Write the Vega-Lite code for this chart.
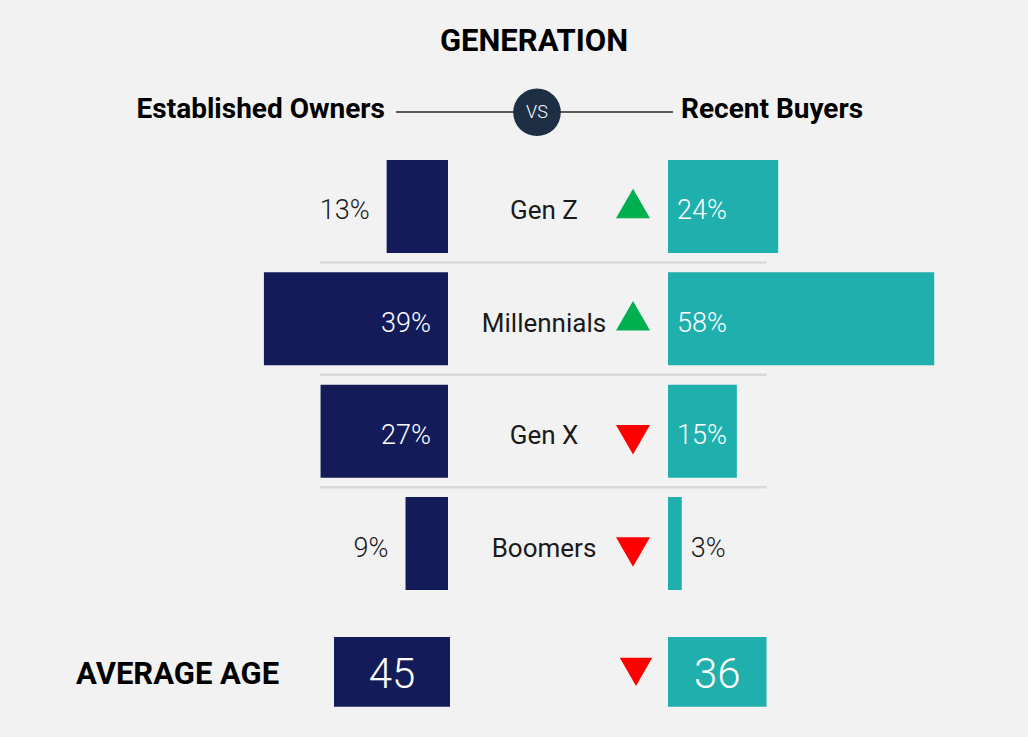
{
  "$schema": "https://vega.github.io/schema/vega-lite/v6.json",
  "width": 1028,
  "height": 737,
  "autosize": {"type": "none"},
  "padding": 0,
  "background": "#f2f2f2",
  "config": {"view": {"stroke": null}, "font": "Roboto", "axis": {"disable": true}},
  "datasets": {
    "generations": [
      {"generation": "Gen Z", "established": 0.13, "recent": 0.24},
      {"generation": "Millennials", "established": 0.39, "recent": 0.58},
      {"generation": "Gen X", "established": 0.27, "recent": 0.15},
      {"generation": "Boomers", "established": 0.09, "recent": 0.03}
    ],
    "average": [{"metric": "AVERAGE AGE", "established": 45, "recent": 36}],
    "headers": [
      {"row": "title", "side": "center", "label": "GENERATION"},
      {"row": "header", "side": "left", "label": "Established Owners"},
      {"row": "header", "side": "right", "label": "Recent Buyers"},
      {"row": "header", "side": "center", "label": "VS"}
    ]
  },
  "layer": [
    {
      "data": {"name": "generations"},
      "transform": [{"filter": "datum.generation != 'Boomers'"}],
      "mark": {"type": "rule", "color": "#d9d9d9", "strokeWidth": 2.5, "yOffset": 9.5},
      "encoding": {
        "x": {"datum": 0.2712, "type": "quantitative", "scale": {"domain": [0, 1], "range": [448, -24], "nice": false}},
        "x2": {"datum": -0.675},
        "y": {"field": "generation", "type": "nominal", "bandPosition": 1, "scale": {"domain": ["Gen Z", "Millennials", "Gen X", "Boomers"], "range": [150.3, 599.7], "paddingInner": 0.172, "paddingOuter": 0.086}}
      }
    },
    {
      "data": {"name": "generations"},
      "mark": {"type": "bar", "color": "#131b58"},
      "encoding": {
        "x": {"field": "established", "type": "quantitative", "scale": {"domain": [0, 1], "range": [448, -24], "nice": false}},
        "y": {"field": "generation", "type": "nominal", "scale": {"domain": ["Gen Z", "Millennials", "Gen X", "Boomers"], "range": [150.3, 599.7], "paddingInner": 0.172, "paddingOuter": 0.086}}
      }
    },
    {
      "data": {"name": "generations"},
      "transform": [{"filter": "datum.established >= 0.2"}],
      "mark": {"type": "text", "align": "right", "baseline": "middle", "dx": -17, "dy": 5, "fontSize": 27, "fontWeight": 300, "color": "#ffffff"},
      "encoding": {
        "x": {"datum": 0, "type": "quantitative", "scale": {"domain": [0, 1], "range": [448, -24], "nice": false}},
        "y": {"field": "generation", "type": "nominal", "scale": {"domain": ["Gen Z", "Millennials", "Gen X", "Boomers"], "range": [150.3, 599.7], "paddingInner": 0.172, "paddingOuter": 0.086}},
        "text": {"field": "established", "type": "quantitative", "format": ".0%"}
      }
    },
    {
      "data": {"name": "generations"},
      "transform": [{"filter": "datum.established < 0.2"}],
      "mark": {"type": "text", "align": "right", "baseline": "middle", "dx": -17, "dy": 5, "fontSize": 27, "fontWeight": 300, "color": "#1a1a1a"},
      "encoding": {
        "x": {"field": "established", "type": "quantitative", "scale": {"domain": [0, 1], "range": [448, -24], "nice": false}},
        "y": {"field": "generation", "type": "nominal", "scale": {"domain": ["Gen Z", "Millennials", "Gen X", "Boomers"], "range": [150.3, 599.7], "paddingInner": 0.172, "paddingOuter": 0.086}},
        "text": {"field": "established", "type": "quantitative", "format": ".0%"}
      }
    },
    {
      "data": {"name": "generations"},
      "mark": {"type": "bar", "color": "#1fafad"},
      "encoding": {
        "x": {"field": "recent", "type": "quantitative", "scale": {"domain": [0, 1], "range": [668, 1127], "nice": false}},
        "y": {"field": "generation", "type": "nominal", "scale": {"domain": ["Gen Z", "Millennials", "Gen X", "Boomers"], "range": [150.3, 599.7], "paddingInner": 0.172, "paddingOuter": 0.086}}
      }
    },
    {
      "data": {"name": "generations"},
      "transform": [{"filter": "datum.recent >= 0.1"}],
      "mark": {"type": "text", "align": "left", "baseline": "middle", "dx": 9, "dy": 5, "fontSize": 27, "fontWeight": 300, "color": "#ffffff"},
      "encoding": {
        "x": {"datum": 0, "type": "quantitative", "scale": {"domain": [0, 1], "range": [668, 1127], "nice": false}},
        "y": {"field": "generation", "type": "nominal", "scale": {"domain": ["Gen Z", "Millennials", "Gen X", "Boomers"], "range": [150.3, 599.7], "paddingInner": 0.172, "paddingOuter": 0.086}},
        "text": {"field": "recent", "type": "quantitative", "format": ".0%"}
      }
    },
    {
      "data": {"name": "generations"},
      "transform": [{"filter": "datum.recent < 0.1"}],
      "mark": {"type": "text", "align": "left", "baseline": "middle", "dx": 9, "dy": 5, "fontSize": 27, "fontWeight": 300, "color": "#1a1a1a"},
      "encoding": {
        "x": {"field": "recent", "type": "quantitative", "scale": {"domain": [0, 1], "range": [668, 1127], "nice": false}},
        "y": {"field": "generation", "type": "nominal", "scale": {"domain": ["Gen Z", "Millennials", "Gen X", "Boomers"], "range": [150.3, 599.7], "paddingInner": 0.172, "paddingOuter": 0.086}},
        "text": {"field": "recent", "type": "quantitative", "format": ".0%"}
      }
    },
    {
      "data": {"name": "generations"},
      "mark": {"type": "text", "align": "center", "baseline": "middle", "dx": 30, "dy": 5, "fontSize": 26, "fontWeight": 400, "color": "#1a1a1a"},
      "encoding": {
        "y": {"field": "generation", "type": "nominal", "scale": {"domain": ["Gen Z", "Millennials", "Gen X", "Boomers"], "range": [150.3, 599.7], "paddingInner": 0.172, "paddingOuter": 0.086}},
        "text": {"field": "generation", "type": "nominal"}
      }
    },
    {
      "data": {"name": "generations"},
      "transform": [{"filter": "datum.recent > datum.established"}],
      "mark": {"type": "point", "shape": "triangle-up", "filled": true, "opacity": 1, "color": "#00b050", "size": 1156, "strokeWidth": 0, "xOffset": 119, "yOffset": -3},
      "encoding": {
        "y": {"field": "generation", "type": "nominal", "scale": {"domain": ["Gen Z", "Millennials", "Gen X", "Boomers"], "range": [150.3, 599.7], "paddingInner": 0.172, "paddingOuter": 0.086}}
      }
    },
    {
      "data": {"name": "generations"},
      "transform": [{"filter": "datum.recent < datum.established"}],
      "mark": {"type": "point", "shape": "triangle-down", "filled": true, "opacity": 1, "color": "#ff0000", "size": 1156, "strokeWidth": 0, "xOffset": 119, "yOffset": 8.5},
      "encoding": {
        "y": {"field": "generation", "type": "nominal", "scale": {"domain": ["Gen Z", "Millennials", "Gen X", "Boomers"], "range": [150.3, 599.7], "paddingInner": 0.172, "paddingOuter": 0.086}}
      }
    },
    {
      "data": {"name": "average"},
      "mark": {"type": "rect", "color": "#131b58"},
      "encoding": {
        "x": {"datum": 0.2415, "type": "quantitative", "scale": {"domain": [0, 1], "range": [448, -24], "nice": false}},
        "x2": {"datum": -0.0042},
        "y": {"field": "metric", "type": "nominal", "scale": {"domain": ["AVERAGE AGE"], "range": [637, 706.7], "paddingInner": 0, "paddingOuter": 0}}
      }
    },
    {
      "data": {"name": "average"},
      "mark": {"type": "text", "align": "center", "baseline": "middle", "dy": 3.5, "fontSize": 42, "fontWeight": 300, "color": "#ffffff"},
      "encoding": {
        "x": {"datum": 0.1186, "type": "quantitative", "scale": {"domain": [0, 1], "range": [448, -24], "nice": false}},
        "y": {"field": "metric", "type": "nominal", "scale": {"domain": ["AVERAGE AGE"], "range": [637, 706.7], "paddingInner": 0, "paddingOuter": 0}},
        "text": {"field": "established", "type": "quantitative"}
      }
    },
    {
      "data": {"name": "average"},
      "mark": {"type": "text", "align": "left", "baseline": "middle", "dy": 3, "fontSize": 31, "fontWeight": "bold", "color": "#000000"},
      "encoding": {
        "x": {"datum": 0.788, "type": "quantitative", "scale": {"domain": [0, 1], "range": [448, -24], "nice": false}},
        "y": {"field": "metric", "type": "nominal", "scale": {"domain": ["AVERAGE AGE"], "range": [637, 706.7], "paddingInner": 0, "paddingOuter": 0}},
        "text": {"field": "metric", "type": "nominal"}
      }
    },
    {
      "data": {"name": "average"},
      "mark": {"type": "rect", "color": "#1fafad"},
      "encoding": {
        "x": {"datum": 0, "type": "quantitative", "scale": {"domain": [0, 1], "range": [668, 1127], "nice": false}},
        "x2": {"datum": 0.2146},
        "y": {"field": "metric", "type": "nominal", "scale": {"domain": ["AVERAGE AGE"], "range": [637, 706.7], "paddingInner": 0, "paddingOuter": 0}}
      }
    },
    {
      "data": {"name": "average"},
      "mark": {"type": "text", "align": "center", "baseline": "middle", "dy": 3.5, "fontSize": 42, "fontWeight": 300, "color": "#ffffff"},
      "encoding": {
        "x": {"datum": 0.1073, "type": "quantitative", "scale": {"domain": [0, 1], "range": [668, 1127], "nice": false}},
        "y": {"field": "metric", "type": "nominal", "scale": {"domain": ["AVERAGE AGE"], "range": [637, 706.7], "paddingInner": 0, "paddingOuter": 0}},
        "text": {"field": "recent", "type": "quantitative"}
      }
    },
    {
      "data": {"name": "average"},
      "transform": [{"filter": "datum.recent < datum.established"}],
      "mark": {"type": "point", "shape": "triangle-down", "filled": true, "opacity": 1, "color": "#ff0000", "size": 1050, "strokeWidth": 0, "xOffset": 122},
      "encoding": {
        "y": {"field": "metric", "type": "nominal", "scale": {"domain": ["AVERAGE AGE"], "range": [637, 706.7], "paddingInner": 0, "paddingOuter": 0}}
      }
    },
    {
      "data": {"name": "headers"},
      "transform": [{"filter": "datum.side == 'left'"}],
      "mark": {"type": "rule", "color": "#595959", "strokeWidth": 2, "yOffset": 3.5},
      "encoding": {
        "x": {"datum": 0.11, "type": "quantitative", "scale": {"domain": [0, 1], "range": [448, -24], "nice": false}},
        "x2": {"datum": -0.4767},
        "y": {"field": "row", "type": "nominal", "scale": {"type": "point", "domain": ["title", "header"], "range": [40.5, 108.5], "padding": 0}}
      }
    },
    {
      "data": {"name": "headers"},
      "transform": [{"filter": "datum.label == 'VS'"}],
      "mark": {"type": "point", "shape": "circle", "filled": true, "opacity": 1, "color": "#1d2e45", "size": 2270, "strokeWidth": 0, "xOffset": 23, "yOffset": 3.8},
      "encoding": {
        "y": {"field": "row", "type": "nominal", "scale": {"type": "point", "domain": ["title", "header"], "range": [40.5, 108.5], "padding": 0}}
      }
    },
    {
      "data": {"name": "headers"},
      "transform": [{"filter": "datum.label == 'VS'"}],
      "mark": {"type": "text", "align": "center", "baseline": "middle", "dx": 23, "dy": 4.2, "fontSize": 18, "fontWeight": 300, "color": "#ffffff"},
      "encoding": {
        "y": {"field": "row", "type": "nominal", "scale": {"type": "point", "domain": ["title", "header"], "range": [40.5, 108.5], "padding": 0}},
        "text": {"field": "label", "type": "nominal"}
      }
    },
    {
      "data": {"name": "headers"},
      "transform": [{"filter": "datum.row == 'title'"}],
      "mark": {"type": "text", "align": "center", "baseline": "middle", "dx": 20, "dy": 1, "fontSize": 31, "fontWeight": "bold", "color": "#000000"},
      "encoding": {
        "y": {"field": "row", "type": "nominal", "scale": {"type": "point", "domain": ["title", "header"], "range": [40.5, 108.5], "padding": 0}},
        "text": {"field": "label", "type": "nominal"}
      }
    },
    {
      "data": {"name": "headers"},
      "transform": [{"filter": "datum.side == 'left'"}],
      "mark": {"type": "text", "align": "right", "baseline": "middle", "dy": 1.5, "fontSize": 28, "fontWeight": "bold", "color": "#000000"},
      "encoding": {
        "x": {"datum": 0.1335, "type": "quantitative", "scale": {"domain": [0, 1], "range": [448, -24], "nice": false}},
        "y": {"field": "row", "type": "nominal", "scale": {"type": "point", "domain": ["title", "header"], "range": [40.5, 108.5], "padding": 0}},
        "text": {"field": "label", "type": "nominal"}
      }
    },
    {
      "data": {"name": "headers"},
      "transform": [{"filter": "datum.side == 'right'"}],
      "mark": {"type": "text", "align": "left", "baseline": "middle", "dy": 1.5, "fontSize": 28, "fontWeight": "bold", "color": "#000000"},
      "encoding": {
        "x": {"datum": 0.0283, "type": "quantitative", "scale": {"domain": [0, 1], "range": [668, 1127], "nice": false}},
        "y": {"field": "row", "type": "nominal", "scale": {"type": "point", "domain": ["title", "header"], "range": [40.5, 108.5], "padding": 0}},
        "text": {"field": "label", "type": "nominal"}
      }
    }
  ],
  "resolve": {"scale": {"x": "independent", "y": "independent"}}
}
